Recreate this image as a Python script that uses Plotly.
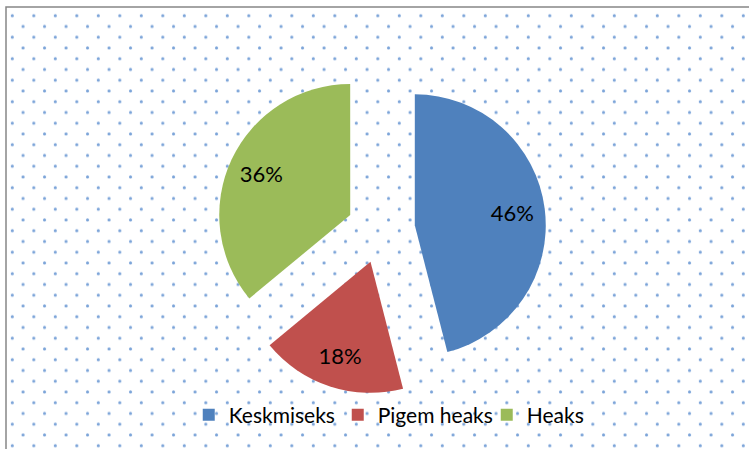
import base64
import plotly.graph_objects as go

# Datos del gráfico
labels = ["Keskmiseks", "Pigem heaks", "Heaks"]
values = [46, 18, 36]
colors = ["#4F81BD", "#C0504D", "#9BBB59"]

W, H = 749, 449
pull = [0.26, 0.26, 0.26]
dom = dict(x=[0.2884, 0.7290], y=[0.1214, 0.8564])

# Fondo punteado (patrón SVG como imagen)
bg_w, bg_h = W - 6, H - 7
svg = (
    '<svg xmlns="http://www.w3.org/2000/svg" width="{w}" height="{h}">'
    '<defs><pattern id="p" x="0" y="0" width="21.5" height="21.5" patternUnits="userSpaceOnUse">'
    '<circle cx="6.3" cy="8.7" r="1.5" fill="#7AA3D8"/>'
    '<circle cx="17.05" cy="19.45" r="1.5" fill="#7AA3D8"/>'
    '</pattern></defs>'
    '<rect width="100%" height="100%" fill="url(#p)"/></svg>'
).format(w=bg_w, h=bg_h)
bg_src = "data:image/svg+xml;base64," + base64.b64encode(svg.encode()).decode()

fig = go.Figure()

# Sectores
fig.add_trace(go.Pie(
    labels=labels,
    values=values,
    marker=dict(colors=colors, line=dict(width=0)),
    sort=False,
    direction="clockwise",
    rotation=0,
    pull=pull,
    textinfo="none",
    domain=dom,
    hoverinfo="label+percent",
))

# Etiquetas de porcentaje (anillo transparente para ubicarlas más afuera)
fig.add_trace(go.Pie(
    labels=labels,
    values=values,
    marker=dict(colors=["rgba(0,0,0,0)"] * 3, line=dict(width=0)),
    sort=False,
    direction="clockwise",
    rotation=0,
    pull=pull,
    hole=0.5,
    textinfo="percent",
    textposition="inside",
    insidetextorientation="horizontal",
    textfont=dict(family="Lato", size=22, color="#000000"),
    domain=dom,
    hoverinfo="skip",
    showlegend=False,
))

fig.update_layout(
    width=W,
    height=H,
    margin=dict(l=0, r=0, t=0, b=0),
    paper_bgcolor="white",
    plot_bgcolor="white",
    font=dict(family="Lato", size=22, color="#000000"),
    showlegend=True,
    legend=dict(
        orientation="h",
        x=0.252, xanchor="left",
        y=0.0757, yanchor="middle",
        bgcolor="rgba(0,0,0,0)",
        font=dict(family="Lato", size=21, color="#000000"),
        itemwidth=30,
        entrywidth=104,
        entrywidthmode="pixels",
    ),
    images=[dict(
        source=bg_src,
        xref="paper", yref="paper",
        x=6 / W, y=1 - 7 / H,
        sizex=bg_w / W, sizey=bg_h / H,
        xanchor="left", yanchor="top",
        sizing="stretch",
        layer="below",
    )],
    shapes=[dict(
        type="rect",
        xref="paper", yref="paper",
        x0=6 / W, x1=1.05, y0=-0.05, y1=1 - 7 / H,
        line=dict(color="#868686", width=1.5),
        fillcolor="rgba(0,0,0,0)",
        layer="above",
    )],
)

fig.write_html("out.html", config={"displayModeBar": False},
               post_script="document.body.style.margin='0';")
